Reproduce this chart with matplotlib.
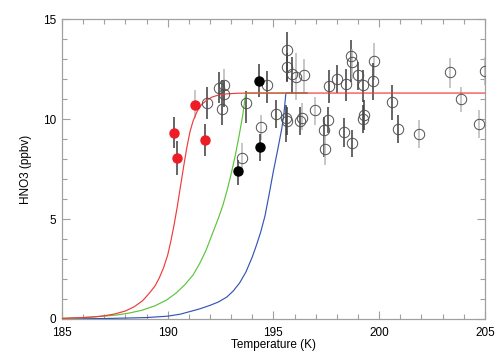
import numpy as np
import matplotlib
matplotlib.use("Agg")
import matplotlib.pyplot as plt
from matplotlib.ticker import MultipleLocator

plt.rcParams['font.family'] = ['Liberation Sans', 'DejaVu Sans']

# model curves (temperature K, HNO3 ppbv)
red_T = [185.0, 185.5, 186.0, 186.5, 187.0, 187.5, 188.0, 188.4, 188.8, 189.1,
         189.4, 189.6, 189.8, 190.0, 190.15, 190.3, 190.45, 190.6, 190.75, 190.9,
         191.05, 191.2, 191.4, 191.6, 191.85, 192.1, 192.4, 192.8, 193.3, 194.0, 205.0]
red_v = [0.03, 0.05, 0.07, 0.1, 0.16, 0.25, 0.4, 0.6, 0.9, 1.25,
         1.65, 2.05, 2.55, 3.2, 3.9, 4.7, 5.6, 6.6, 7.6, 8.55,
         9.35, 9.9, 10.4, 10.72, 10.95, 11.1, 11.2, 11.26, 11.29, 11.3, 11.3]
green_T = [185.0, 186.0, 187.0, 187.6, 188.2, 188.8, 189.4, 189.95, 190.4, 190.8,
           191.2, 191.5, 191.8, 192.0, 192.2, 192.4, 192.6, 192.8, 193.0, 193.2,
           193.4, 193.55, 193.69, 196.6]
green_v = [0.03, 0.07, 0.14, 0.2, 0.3, 0.44, 0.66, 0.95, 1.3, 1.7,
           2.2, 2.75, 3.4, 3.95, 4.5, 5.05, 5.65, 6.4, 7.25, 8.2,
           9.3, 10.2, 11.3, 11.3]
blue_T = [185.0, 187.0, 189.0, 190.0, 190.6, 191.05, 191.5, 192.0, 192.4, 192.8,
          193.1, 193.4, 193.7, 194.0, 194.2, 194.4, 194.6, 194.8, 195.0, 195.2,
          195.4, 195.5, 195.59, 196.6]
blue_v = [0.0, 0.02, 0.07, 0.14, 0.24, 0.37, 0.5, 0.68, 0.85, 1.1,
          1.4, 1.8, 2.35, 3.1, 3.7, 4.35, 5.15, 6.25, 7.4, 8.45,
          9.55, 10.3, 11.3, 11.3]

# open circles: T, value, bar low, bar high, bar shade (1 = dark, 0 = light)
open_T = [191.84, 192.42, 192.67, 192.67, 192.56, 193.69, 193.5, 194.69, 194.41, 195.12,
          195.65, 195.62, 195.89, 196.06, 196.43, 195.59, 195.62, 196.28, 196.35, 196.99,
          197.56, 197.4, 197.43, 197.64, 197.99, 198.44, 198.33, 198.7, 198.66, 198.7,
          199.01, 199.22, 199.3, 199.25, 199.75, 199.72, 200.63, 200.9, 201.87, 203.33,
          203.85, 204.7, 205.0]
open_v = [10.78, 11.57, 11.7, 11.23, 10.5, 10.78, 8.03, 11.68, 9.6, 10.25,
          13.45, 12.62, 12.23, 12.12, 12.2, 10.07, 9.9, 9.9, 10.07, 10.43,
          9.95, 9.45, 8.52, 11.65, 12.02, 11.73, 9.35, 8.8, 13.17, 12.87,
          12.2, 11.7, 10.2, 10.0, 12.92, 11.88, 10.83, 9.52, 9.27, 12.33,
          11.0, 9.75, 12.4]
open_lo = [10.0, 10.8, 10.95, 10.6, 9.7, 9.8, 7.2, 10.8, 8.95, 9.55,
           11.87, 11.9, 11.3, 10.95, 11.3, 8.87, 9.2, 9.2, 9.45, 9.7,
           9.3, 8.1, 7.7, 10.8, 11.3, 10.9, 8.6, 8.1, 11.87, 12.0,
           11.45, 10.87, 9.45, 9.3, 11.95, 10.95, 9.95, 8.8, 8.53, 11.53,
           10.37, 9.03, 11.7]
open_hi = [11.6, 12.37, 12.5, 11.9, 11.95, 11.4, 8.8, 12.4, 10.2, 10.95,
           14.37, 13.3, 13.1, 13.3, 13.0, 10.7, 10.6, 10.6, 10.8, 11.1,
           10.6, 10.1, 9.2, 12.45, 12.7, 12.5, 10.05, 9.45, 13.95, 13.5,
           12.87, 12.45, 10.95, 10.7, 13.8, 12.8, 11.7, 10.2, 9.95, 13.03,
           11.6, 10.45, 13.1]
open_dark = [1, 1, 0, 1, 1, 1, 0, 1, 0, 1,
             1, 1, 1, 0, 0, 1, 1, 1, 0, 0,
             1, 1, 0, 1, 1, 1, 1, 1, 1, 0,
             1, 1, 1, 1, 0, 1, 1, 1, 0, 0,
             0, 0, 0]

red_pt_T = [190.28, 190.45, 191.27, 191.78]
red_pt_v = [9.32, 8.07, 10.68, 8.95]
red_pt_lo = [8.55, 7.2, 10.05, 8.15]
red_pt_hi = [10.08, 8.9, 11.45, 9.75]
red_pt_dark = [1, 1, 0, 1]

blk_pt_T = [194.31, 194.38, 193.31]
blk_pt_v = [11.92, 8.6, 7.4]
blk_pt_lo = [11.1, 7.9, 6.7]
blk_pt_hi = [12.75, 9.27, 7.95]
blk_pt_dark = [1, 1, 1]

DARK = '#3c3c3c'
LIGHT = '#b8b8b8'

fig = plt.figure(figsize=(5.04, 3.6), dpi=100)
ax = fig.add_axes([0.123, 0.114, 0.839, 0.833])


def bars(T, lo, hi, dark):
    for t, a, b, d in zip(T, lo, hi, dark):
        ax.plot([t, t], [a, b], color=DARK if d else LIGHT, lw=1.1, zorder=2,
                solid_capstyle='butt')


bars(open_T, open_lo, open_hi, open_dark)
bars(red_pt_T, red_pt_lo, red_pt_hi, red_pt_dark)
bars(blk_pt_T, blk_pt_lo, blk_pt_hi, blk_pt_dark)

ax.plot(blue_T, blue_v, color='#3455b5', lw=0.85, zorder=3)
ax.plot(green_T, green_v, color='#5cc43c', lw=0.85, zorder=3)
ax.plot(red_T, red_v, color='#f23a3a', lw=0.85, zorder=4)

ax.plot(open_T, open_v, 'o', mfc='none', mec='#505050', mew=0.7, ms=7.5, zorder=5)
ax.plot(red_pt_T, red_pt_v, 'o', mfc='#ee1c24', mec='#ee1c24', ms=6.5, zorder=5)
ax.plot(blk_pt_T, blk_pt_v, 'o', mfc='black', mec='black', ms=6.5, zorder=5)

ax.set_xlim(185, 205)
ax.set_ylim(0, 15)
ax.xaxis.set_major_locator(MultipleLocator(5))
ax.xaxis.set_minor_locator(MultipleLocator(1))
ax.yaxis.set_major_locator(MultipleLocator(5))
ax.yaxis.set_minor_locator(MultipleLocator(1))
ax.tick_params(which='both', direction='in', top=True, right=True,
               color='#a0a0a0', labelsize=8.5)
ax.tick_params(axis='x', pad=5.5)
ax.tick_params(axis='y', pad=4)
ax.tick_params(which='major', length=6, width=0.8)
ax.tick_params(which='minor', length=3.3, width=0.8)
for s in ax.spines.values():
    s.set_color('#a0a0a0')
    s.set_linewidth(0.9)

ax.set_xlabel('Temperature (K)', fontsize=8.5, labelpad=0)
ax.set_ylabel('HNO3 (ppbv)', fontsize=8.5, labelpad=8)

fig.savefig('out.png', dpi=100)
